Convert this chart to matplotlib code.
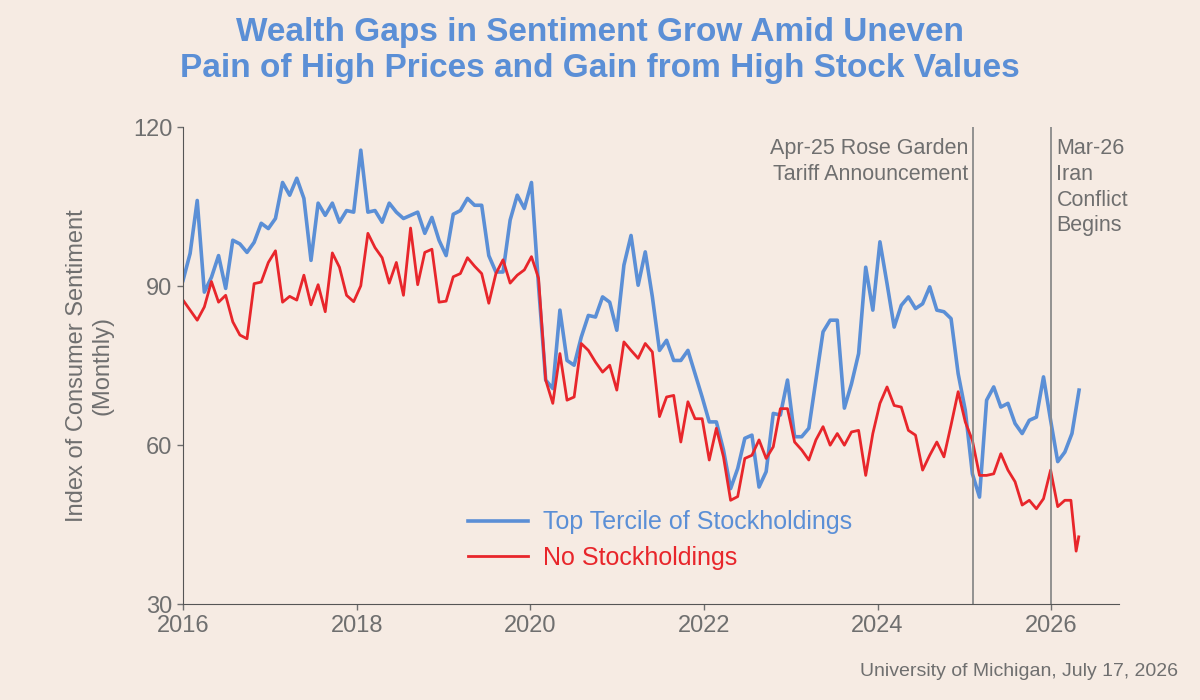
import numpy as np
import matplotlib.pyplot as plt
from matplotlib.lines import Line2D

plt.rcParams['font.family'] = ['Liberation Sans', 'DejaVu Sans']

# Monthly index values (starting Jan 2016)
top_tercile = [91.1, 96.2, 106.2, 88.9, 91.7, 95.8, 89.6, 98.7, 98.0, 96.4, 98.3, 101.9,
               100.9, 102.8, 109.6, 107.2, 110.4, 106.6, 94.9, 105.7, 103.4, 105.7, 102.1, 104.3,
               104.0, 115.7, 104.0, 104.3, 102.1, 105.7, 104.0, 102.8, 103.4, 104.0, 100.0, 103.0,
               98.7, 95.8, 103.6, 104.3, 106.6, 105.3, 105.3, 95.8, 92.7, 92.7, 102.5, 107.2,
               104.7, 109.6, 90.0, 72.3, 70.7, 85.5, 76.0, 75.1, 80.4, 84.5, 84.2, 88.0,
               87.0, 81.7, 94.0, 99.6, 90.2, 96.5, 88.0, 77.9, 79.8, 76.0, 76.0, 77.9,
               73.5, 69.1, 64.4, 64.4, 59.1, 51.8, 55.6, 61.3, 61.9, 52.1, 55.0, 66.0,
               65.7, 72.3, 61.6, 61.6, 63.2, 72.3, 81.4, 83.6, 83.6, 67.0, 71.6, 77.3,
               93.6, 85.5, 98.4, 90.5, 82.3, 86.4, 88.0, 85.8, 86.7, 89.9, 85.5, 85.2,
               83.9, 73.5, 66.6, 54.6, 50.2, 68.5, 71.0, 67.2, 67.9, 64.1, 62.2, 64.7,
               65.3, 72.9, 64.7, 56.9, 58.7, 62.2, 70.4]
no_stock = [87.4, 85.5, 83.6, 86.1, 90.9, 87.0, 88.3, 83.3, 80.8, 80.1, 90.5, 90.8,
            94.5, 96.7, 87.0, 88.1, 87.4, 92.1, 86.5, 90.3, 85.2, 96.3, 93.6, 88.3,
            87.1, 90.1, 100.0, 97.3, 95.4, 90.6, 94.5, 88.3, 101.0, 90.3, 96.4, 97.0,
            87.0, 87.2, 91.8, 92.4, 95.4, 93.8, 92.4, 86.8, 92.4, 95.0, 90.6, 92.1,
            93.1, 95.6, 91.5, 72.3, 67.9, 77.3, 68.5, 69.1, 79.2, 77.9, 75.7, 73.8,
            75.1, 70.4, 79.5, 77.9, 76.4, 79.2, 77.6, 65.4, 69.1, 69.4, 60.6, 68.2,
            65.0, 65.0, 57.2, 63.2, 57.8, 49.6, 50.3, 57.5, 58.1, 61.0, 57.5, 59.7,
            66.9, 66.9, 60.6, 59.1, 57.2, 61.0, 63.5, 60.0, 62.2, 60.0, 62.5, 62.8,
            54.3, 62.2, 67.9, 71.0, 67.5, 67.2, 62.8, 61.9, 55.3, 58.1, 60.6, 57.8,
            63.8, 70.1, 64.4, 60.9, 54.3, 54.3, 54.6, 58.4, 55.3, 53.1, 48.7, 49.6,
            48.0, 49.9, 55.3, 48.4, 49.6, 49.6, 40.0, 42.7]
first_year, last_year = 2016.0, 2026.32

events = [2025.1, 2026.0]
event_labels = ["Apr-25 Rose Garden\nTariff Announcement", "Mar-26\nIran\nConflict\nBegins"]

BG = '#f6ebe3'
BLUE = '#5b8fd6'
RED = '#e8262b'
GREY = '#6f6f6f'

x_top = np.linspace(first_year, last_year, len(top_tercile))
step = x_top[1] - x_top[0]
# last red readings are weekly-style updates after the final full month
x_no = np.r_[x_top[:len(no_stock) - 3], x_top[len(no_stock) - 4] + np.array([0.07, 0.13, 0.16])]

fig = plt.figure(figsize=(12, 7), dpi=100, facecolor=BG)
ax = fig.add_axes([0.1525, 0.137, 0.78, 0.681])
ax.set_facecolor(BG)

ax.plot(x_top, top_tercile, color=BLUE, linewidth=2.6)
ax.plot(x_no, no_stock, color=RED, linewidth=2.0)

for xv in events:
    ax.axvline(xv, color='#8a8a8a', linewidth=1.3)
ax.text(events[0] - 0.06, 118, event_labels[0], ha='right', va='top', fontsize=15.5,
        color=GREY, linespacing=1.3)
ax.text(events[1] + 0.06, 118, event_labels[1], ha='left', va='top', fontsize=15.5,
        color=GREY, linespacing=1.3)

ax.set_xlim(2016, 2026.78)
ax.set_ylim(30, 120)
ax.set_xticks([2016, 2018, 2020, 2022, 2024, 2026])
ax.set_yticks([30, 60, 90, 120])
ax.tick_params(colors=GREY, labelsize=17, length=4, width=1)
for side in ['top', 'right']:
    ax.spines[side].set_visible(False)
for side in ['left', 'bottom']:
    ax.spines[side].set_color('#555555')
ax.set_ylabel('Index of Consumer Sentiment\n(Monthly)', fontsize=17, color=GREY, labelpad=14)

handles = [Line2D([], [], color=BLUE, linewidth=2.6), Line2D([], [], color=RED, linewidth=2.0)]
leg = ax.legend(handles, ['Top Tercile of Stockholdings', 'No Stockholdings'],
                loc='lower left', bbox_to_anchor=(0.28, 0.025), frameon=False,
                fontsize=18, handlelength=2.4, handletextpad=0.6, labelspacing=0.45)
leg.get_texts()[0].set_color(BLUE)
leg.get_texts()[1].set_color(RED)

fig.text(0.5, 0.975, 'Wealth Gaps in Sentiment Grow Amid Uneven\n'
         'Pain of High Prices and Gain from High Stock Values',
         ha='center', va='top', fontsize=24, fontweight='bold', color=BLUE, linespacing=1.2)
fig.text(0.982, 0.04, 'University of Michigan, July 17, 2026', ha='right', va='center',
         fontsize=14, color=GREY)

fig.savefig('out.png', dpi=100, facecolor=BG)
